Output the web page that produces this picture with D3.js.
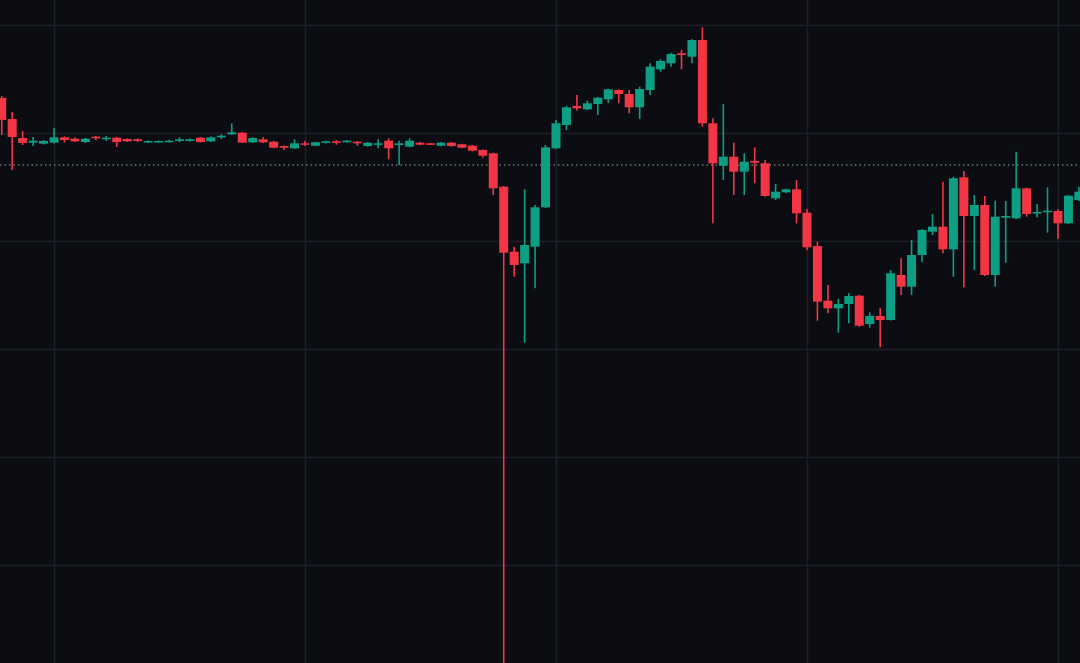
<!DOCTYPE html>
<html>
<head>
<meta charset="utf-8">
<script src="https://cdn.jsdelivr.net/npm/d3@7"></script>
<style>
  html, body { margin: 0; padding: 0; background: #0c0d13; overflow: hidden; }
  svg { display: block; }
</style>
</head>
<body>
<svg id="chart" width="1080" height="663"></svg>
<script>
// ---- data (price units, arbitrary) ----
const openP = [6.02,5.81,5.62,5.573,5.563,5.573,5.627,5.613,5.58,5.633,5.613,5.623,5.61,5.607,5.577,5.58,5.583,5.59,5.59,5.623,
  5.587,5.627,5.657,5.673,5.577,5.607,5.583,5.54,5.517,5.567,5.543,5.57,5.587,5.58,5.583,5.54,5.553,5.593,5.55,5.533,
  5.573,5.567,5.543,5.573,5.557,5.543,5.50,5.467,5.133,4.483,4.367,4.533,4.927,5.517,5.75,5.94,5.907,5.96,6.007,6.10,
  6.06,5.927,6.10,6.307,6.367,6.467,6.433,6.60,5.767,5.343,5.433,5.283,5.39,5.367,5.017,5.077,5.107,4.873,4.54,3.993,
  3.917,3.96,4.043,3.76,3.84,3.80,4.25,4.133,4.45,4.683,4.733,4.507,5.227,4.84,4.95,4.25,4.823,4.817,5.117,4.867,
  4.88,4.89,4.767,5.00];
const highP = [6.04,5.88,5.69,5.63,5.60,5.723,5.635,5.625,5.62,5.64,5.64,5.63,5.615,5.615,5.595,5.595,5.60,5.627,5.615,5.63,
  5.635,5.657,5.767,5.68,5.625,5.627,5.59,5.545,5.607,5.593,5.583,5.593,5.60,5.60,5.59,5.58,5.607,5.617,5.593,5.617,
  5.58,5.57,5.58,5.58,5.563,5.55,5.505,5.473,5.14,4.533,5.107,4.95,5.55,5.80,5.94,6.05,5.993,6.03,6.113,6.105,
  6.10,6.133,6.367,6.407,6.473,6.50,6.607,6.727,5.817,5.96,5.573,5.467,5.527,5.40,5.16,5.113,5.20,4.91,4.583,4.15,
  4.01,4.067,4.05,3.877,3.917,4.30,4.417,4.60,4.71,4.86,5.183,5.233,5.29,5.05,5.04,4.993,4.99,5.483,5.123,4.96,
  5.127,4.907,5.05,5.133];
const lowP = [5.65,5.30,5.55,5.54,5.555,5.565,5.573,5.58,5.57,5.597,5.59,5.53,5.58,5.58,5.57,5.575,5.575,5.58,5.585,5.575,
  5.58,5.61,5.65,5.57,5.57,5.57,5.517,5.50,5.51,5.54,5.537,5.565,5.553,5.575,5.543,5.533,5.517,5.407,5.35,5.527,
  5.547,5.55,5.537,5.533,5.517,5.487,5.423,5.05,0.10,4.233,3.573,4.117,4.92,5.51,5.70,5.893,5.90,5.85,5.97,5.967,
  5.867,5.81,6.05,6.283,6.333,6.307,6.367,5.733,4.767,5.20,5.05,5.05,5.167,5.033,5.00,5.07,4.767,4.50,3.793,3.867,
  3.673,3.767,3.733,3.723,3.527,3.795,4.05,4.05,4.383,4.65,4.467,4.233,4.127,4.30,4.24,4.133,4.373,4.81,4.833,4.827,
  4.673,4.613,4.76,4.99];
const closeP = [5.80,5.63,5.57,5.593,5.59,5.627,5.60,5.587,5.613,5.617,5.623,5.58,5.587,5.59,5.59,5.59,5.593,5.607,5.607,5.58,
  5.627,5.643,5.677,5.573,5.62,5.577,5.523,5.523,5.567,5.553,5.577,5.587,5.573,5.593,5.567,5.573,5.567,5.517,5.567,5.593,
  5.553,5.553,5.573,5.54,5.523,5.493,5.443,5.117,4.473,4.35,4.55,4.927,5.527,5.767,5.927,5.917,5.967,6.023,6.107,6.06,
  5.927,6.11,6.333,6.39,6.46,6.45,6.60,5.767,5.367,5.433,5.283,5.383,5.373,5.04,5.083,5.107,4.867,4.527,3.983,3.917,
  3.96,4.04,3.743,3.84,3.80,4.267,4.133,4.45,4.70,4.733,4.507,5.217,4.84,4.95,4.25,4.833,4.84,5.117,4.86,4.88,
  4.893,4.767,5.043,5.083];
const priceGridTicks = [6.75, 5.67, 4.59, 3.51, 2.43, 1.35];
const timeGridTicks = [5, 29, 53, 77, 101];
const lastPriceLine = 5.35;

// ---- layout ----
const W = 1080, H = 663;
const COLORS = { bg: "#0c0d13", grid: "#1d1f27", up: "#0c9f84", down: "#f23645", dots: "#6f7d7c" };

const candles = openP.map((o, i) => ({ i, o, h: highP[i], l: lowP[i], c: closeP[i] }));

const svg = d3.select("#chart");
svg.append("rect").attr("width", W).attr("height", H).attr("fill", COLORS.bg);

const x = d3.scaleLinear().domain([-0.164, 103.106]).range([0, W]);
const y = d3.scaleLinear().domain([0.37, 7.0]).range([H, 0]);

// grid via axes
const gx = svg.append("g").attr("transform", `translate(0,${H})`)
  .call(d3.axisBottom(x).tickValues(timeGridTicks).tickSize(-H).tickFormat(""));
const gy = svg.append("g").attr("transform", `translate(${W},0)`)
  .call(d3.axisRight(y).tickValues(priceGridTicks).tickSize(-W).tickFormat(""));
[gx, gy].forEach(g => {
  g.select(".domain").remove();
  g.selectAll(".tick line").attr("stroke", COLORS.grid).attr("stroke-width", 1.6);
});

// dotted last-price line
svg.append("line")
  .attr("x1", 0).attr("x2", W)
  .attr("y1", y(lastPriceLine)).attr("y2", y(lastPriceLine))
  .attr("stroke", COLORS.dots).attr("stroke-width", 1.3)
  .attr("stroke-dasharray", "1.4 3.1");

const step = x(1) - x(0);
const bw = step * 0.86;
const col = d => d.c >= d.o ? COLORS.up : COLORS.down;

const g = svg.append("g");
g.selectAll("line.wick").data(candles).join("line")
  .attr("class", "wick")
  .attr("x1", d => x(d.i)).attr("x2", d => x(d.i))
  .attr("y1", d => y(d.h)).attr("y2", d => y(d.l))
  .attr("stroke", col).attr("stroke-width", 1.6);

g.selectAll("rect.body").data(candles).join("rect")
  .attr("class", "body")
  .attr("x", d => x(d.i) - bw / 2)
  .attr("width", bw)
  .attr("y", d => y(Math.max(d.o, d.c)))
  .attr("height", d => Math.max(1.5, Math.abs(y(d.o) - y(d.c))))
  .attr("fill", col);
</script>
</body>
</html>
